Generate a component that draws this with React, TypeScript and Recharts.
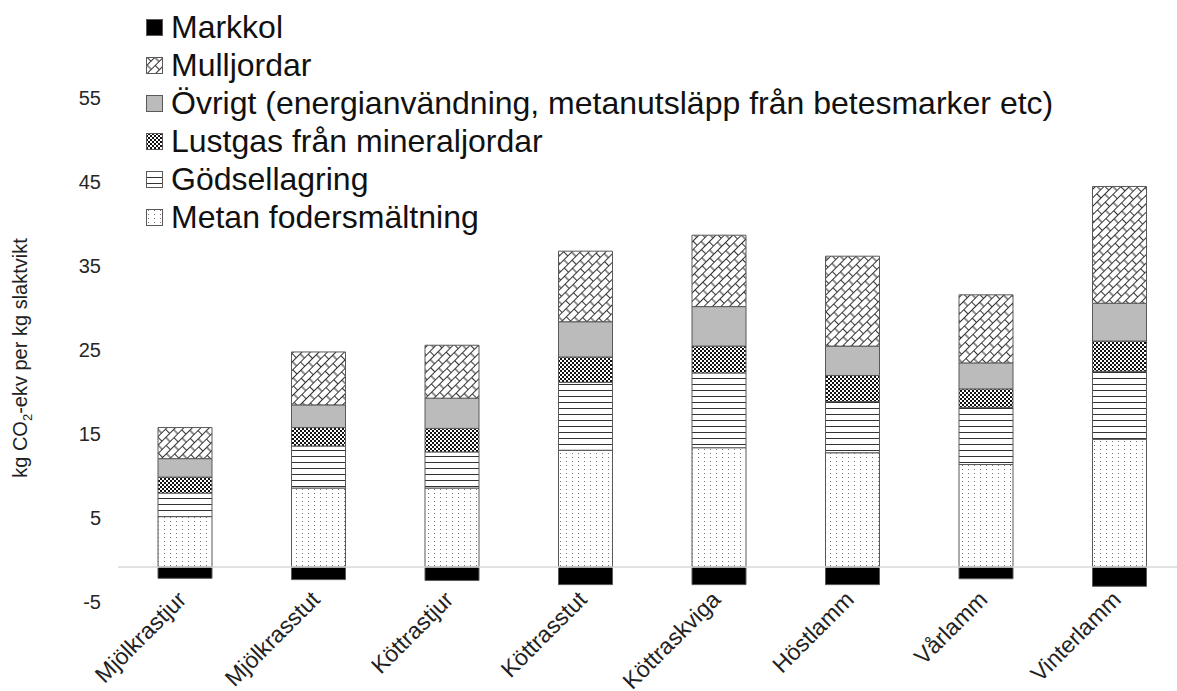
import { BarChart, Bar, XAxis, YAxis, ReferenceLine } from 'recharts'

const categories = ['Mjölkrastjur', 'Mjölkrasstut', 'Köttrastjur', 'Köttrasstut', 'Köttraskviga', 'Höstlamm', 'Vårlamm', 'Vinterlamm']
const metan = [6.0, 9.4, 9.4, 13.9, 14.2, 13.6, 12.2, 15.2]
const godsel = [2.8, 5.0, 4.3, 8.1, 8.9, 6.1, 6.8, 8.1]
const lustgas = [1.9, 2.2, 2.8, 3.0, 3.2, 3.1, 2.2, 3.6]
const ovrigt = [2.2, 2.7, 3.6, 4.2, 4.7, 3.5, 3.1, 4.5]
const mull = [3.7, 6.3, 6.3, 8.4, 8.5, 10.7, 8.1, 13.9]
const markkol = [-1.35, -1.5, -1.6, -2.1, -2.1, -2.1, -1.4, -2.3]
const yTicks = [-5, 5, 15, 25, 35, 45, 55]

// stack order, bottom to top
const series = [
  { key: 'metan', name: 'Metan fodersmältning', fill: 'url(#pMetan)' },
  { key: 'godsel', name: 'Gödsellagring', fill: 'url(#pGodsel)' },
  { key: 'lustgas', name: 'Lustgas från mineraljordar', fill: 'url(#pLust)' },
  { key: 'ovrigt', name: 'Övrigt (energianvändning, metanutsläpp från betesmarker etc)', fill: '#bbbbbb' },
  { key: 'mull', name: 'Mulljordar', fill: 'url(#pMull)' },
  { key: 'markkol', name: 'Markkol', fill: '#000000' },
]

const data = categories.map((name, i) => ({
  name,
  metan: metan[i],
  godsel: godsel[i],
  lustgas: lustgas[i],
  ovrigt: ovrigt[i],
  mull: mull[i],
  markkol: markkol[i],
}))

const legendOrder = ['markkol', 'mull', 'ovrigt', 'lustgas', 'godsel', 'metan']

const FONT = '"Liberation Sans", Arial, sans-serif'

function Patterns() {
  return (
    <svg width={0} height={0} style={{ position: 'absolute' }}>
      <defs>
        <pattern id="pMetan" width={6} height={4} patternUnits="userSpaceOnUse">
          <rect width={6} height={4} fill="#fff" />
          <rect x={2} y={1} width={1} height={1} fill="#777" />
        </pattern>
        <pattern id="pGodsel" width={6} height={6} patternUnits="userSpaceOnUse">
          <rect width={6} height={6} fill="#fff" />
          <rect x={0} y={0} width={6} height={1} fill="#333" />
        </pattern>
        <pattern id="pLust" width={4} height={4} patternUnits="userSpaceOnUse">
          <rect width={4} height={4} fill="#111" />
          <rect x={0} y={0} width={2} height={2} fill="#fff" />
          <rect x={2} y={2} width={2} height={2} fill="#fff" />
        </pattern>
        <pattern id="pMull" width={11} height={12} patternUnits="userSpaceOnUse" patternTransform="rotate(-45)">
          <rect width={11} height={12} fill="#fff" />
          <path d="M0,0.5 H11 M0,6.5 H11 M0.5,0 V6 M6,6 V12" stroke="#333" strokeWidth={1.1} fill="none" />
        </pattern>
      </defs>
    </svg>
  )
}

function YTitle() {
  return (
    <text transform="translate(27,358) rotate(-90)" textAnchor="middle" fontSize={20} fill="#222" fontFamily={FONT}>
      kg CO<tspan dy={5} fontSize={13}>2</tspan><tspan dy={-5}>-ekv per kg slaktvikt</tspan>
    </text>
  )
}

function YTick(props: any) {
  const { y, payload } = props
  return (
    <text x={101} y={y} textAnchor="end" fontSize={20} fill="#262626" fontFamily={FONT}>
      {payload.value}
    </text>
  )
}

function XTick(props: any) {
  const { x, y, payload } = props
  return (
    <g transform={`translate(${x + 3},${y - 8})`}>
      <text textAnchor="end" transform="rotate(-45)" fontSize={23} fill="#222" fontFamily={FONT}>
        {payload.value}
      </text>
    </g>
  )
}

function LegendBox() {
  return (
    <div style={{ position: 'absolute', left: 146, top: 8, fontFamily: FONT, fontSize: 32, color: '#111' }}>
      {legendOrder.map((k) => {
        const s = series.find((d) => d.key === k)!
        return (
          <div key={k} style={{ display: 'flex', alignItems: 'center', height: 38, whiteSpace: 'nowrap' }}>
            <svg width={17} height={17} style={{ marginRight: 8 }}>
              <rect x={0.5} y={0.5} width={16} height={16} fill={s.fill} stroke="#595959" />
            </svg>
            <span>{s.name}</span>
          </div>
        )
      })}
    </div>
  )
}

export default function App() {
  return (
    <div style={{ position: 'absolute', left: 0, top: 0, width: 1177, height: 691, overflow: 'hidden', background: '#fff', fontFamily: FONT }}>
      <Patterns />
      <BarChart
        width={1190}
        height={691}
        data={data}
        stackOffset="sign"
        barSize={54}
        margin={{ top: 105, right: 4, left: 0, bottom: 0 }}
      >
        <XAxis dataKey="name" axisLine={false} tickLine={false} tickSize={0} tickMargin={0} height={82} interval={0} tick={<XTick />} />
        <YAxis
          width={118}
          domain={[-5, 55]}
          ticks={yTicks}
          axisLine={false}
          tickLine={false}
          tick={<YTick />}
          label={<YTitle />}
        />
        <ReferenceLine y={0} stroke="#d9d9d9" strokeWidth={1.5} />
        {series.map((s) => (
          <Bar
            key={s.key}
            dataKey={s.key}
            name={s.name}
            stackId="a"
            fill={s.fill}
            stroke="#595959"
            strokeWidth={1}
            isAnimationActive={false}
          />
        ))}
      </BarChart>
      <LegendBox />
    </div>
  )
}
